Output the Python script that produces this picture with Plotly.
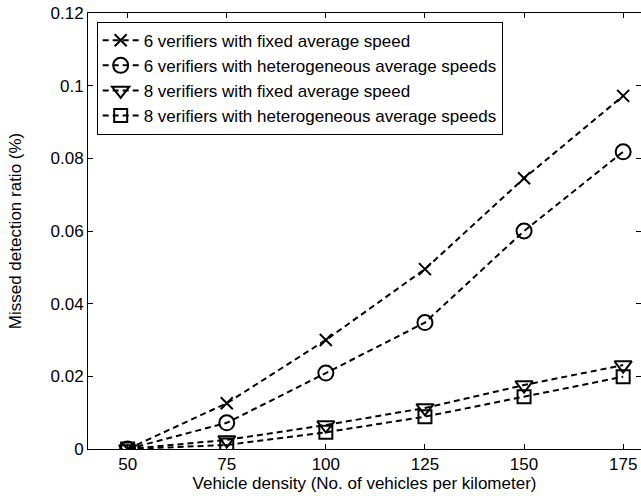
import plotly.graph_objects as go

# Vehicle density (vehicles per km)
density = [50, 75, 100, 125, 150, 175]

# Missed detection ratio (%) for each configuration
fixed_6 = [0.0, 0.0126, 0.0300, 0.0495, 0.0745, 0.0972]
hetero_6 = [0.0, 0.0072, 0.0209, 0.0348, 0.0600, 0.0818]
fixed_8 = [0.0, 0.0025, 0.0066, 0.0113, 0.0176, 0.0231]
hetero_8 = [0.0, 0.0011, 0.0046, 0.0089, 0.0144, 0.0199]

series_names = [
    "6 verifiers with fixed average speed",
    "6 verifiers with heterogeneous average speeds",
    "8 verifiers with fixed average speed",
    "8 verifiers with heterogeneous average speeds",
]
series_values = [fixed_6, hetero_6, fixed_8, hetero_8]
series_symbols = ["x-thin-open", "circle-open", "triangle-down-open", "square-open"]
series_sizes = [12, 15, 15, 13]

x_ticks = [50, 75, 100, 125, 150, 175]
y_ticks = [0, 0.02, 0.04, 0.06, 0.08, 0.1, 0.12]
y_tick_labels = ["0", "0.02", "0.04", "0.06", "0.08", "0.1", "0.12"]

FONT = "Liberation Sans, Arial, Helvetica, sans-serif"
FS = 17

fig = go.Figure()
for name, vals, sym, sz in zip(series_names, series_values, series_symbols, series_sizes):
    fig.add_trace(go.Scatter(
        x=density, y=vals, name=name, mode="lines+markers",
        line=dict(color="black", width=2, dash="6px,4px"),
        marker=dict(symbol=sym, size=sz, color="black",
                    line=dict(color="black", width=2)),
    ))

axis_common = dict(
    showgrid=False, zeroline=False, showline=True, linecolor="black",
    linewidth=1, mirror="ticks", ticks="inside", ticklen=5,
    tickcolor="black", tickfont=dict(family=FONT, size=FS, color="black"),
)

fig.update_layout(
    width=641, height=500,
    margin=dict(l=88, r=0, t=13, b=51),
    paper_bgcolor="white", plot_bgcolor="white",
    font=dict(family=FONT, size=FS, color="black"),
    xaxis=dict(range=[40, 179.5], tickvals=x_ticks,
               title=dict(text="Vehicle density (No. of vehicles per kilometer)",
                          font=dict(family=FONT, size=FS), standoff=0),
               **axis_common),
    yaxis=dict(range=[0, 0.12], tickvals=y_ticks, ticktext=y_tick_labels,
               title=dict(text="Missed detection ratio (%)",
                          font=dict(family=FONT, size=FS), standoff=24),
               **axis_common),
    legend=dict(x=0.0157, y=0.98, xanchor="left", yanchor="top",
                bgcolor="white", bordercolor="black", borderwidth=1,
                font=dict(family=FONT, size=FS, color="black"),
                itemwidth=36, tracegroupgap=0),
    showlegend=True,
)

fig.write_html("out.html")
